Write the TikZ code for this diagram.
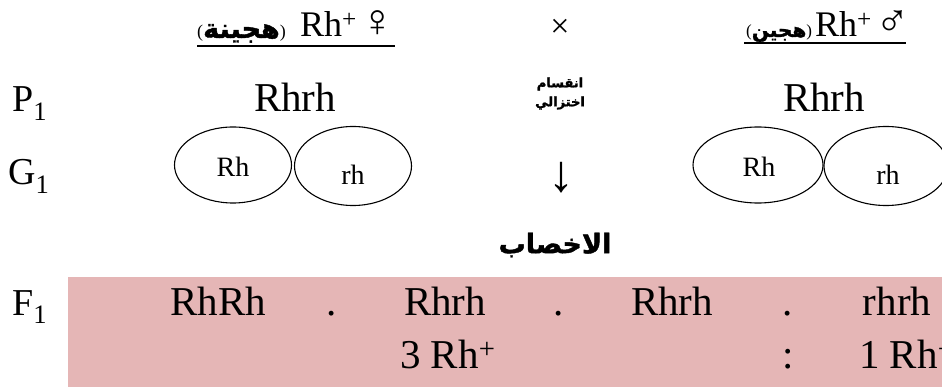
\documentclass[tikz,border=0pt]{standalone}
\usepackage{fontspec}
\setmainfont{Liberation Serif}
\newfontfamily\arabicfont[Script=Arabic,FakeBold=1.5]{DejaVu Sans}
\TeXXeTstate=1
\usetikzlibrary{shapes.geometric}
\definecolor{pinkbg}{RGB}{229,182,182}
\newcommand\fsz[1]{\fontsize{#1}{#1}\selectfont}
\tikzset{
  main/.style={inner sep=0pt, anchor=base, font=\fsz{41}},
  lbl/.style={inner sep=0pt, anchor=base west, font=\fsz{38}},
  hdr/.style={inner sep=0pt, anchor=base west, font=\fsz{36}},
  gam/.style={draw, line width=1.1pt, ellipse, inner sep=0pt},
  gtxt/.style={inner sep=0pt, anchor=base, font=\fsz{28}},
  artxt/.style={inner sep=0pt, font=\arabicfont\bfseries},
  sex/.style={inner sep=0pt, anchor=base, font=\fsz{46}},
  uline/.style={line width=1.2pt}
}
\begin{document}
\begin{tikzpicture}[x=1pt,y=-1pt]
\useasboundingbox (0,0) rectangle (942,387);
\clip (0,0) rectangle (942,387);
% F1 background band
\fill[pinkbg] (68,277) rectangle (942,387);

% header left
\node[hdr] (hLar) at (197,38) {{\fsz{18}(}{\arabicfont\bfseries\fsz{27}\beginR هجينة\endR}{\fsz{18})}};
\node[hdr] (hLrh) at (300,37) {Rh\textsuperscript{+}};
\node[sex] (hLsym) at (378,37) {♀};
\coordinate (uL1) at (197,46);
\coordinate (uL2) at (395,46);
\draw[uline] (uL1) -- (uL2);

% cross
\node[inner sep=0pt, font=\fsz{34}] (cross) at (560,28) {×};

% header right
\node[hdr] (hRar) at (746,37) {{\fsz{17}(}{\arabicfont\bfseries\fsz{20}\beginR هجين\endR}{\fsz{17})}};
\node[hdr] (hRrh) at (815,37) {Rh\textsuperscript{+}};
\node[sex] (hRsym) at (893,37) {♂};
\coordinate (uR1) at (744,43);
\coordinate (uR2) at (906,43);
\draw[uline] (uR1) -- (uR2);

% P1 row
\node[lbl] (P1) at (12,112) {P\textsubscript{1}};
\node[main] (pL) at (295,112) {Rhrh};
\node[main] (pR) at (824,112) {Rhrh};
\node[artxt, font=\arabicfont\bfseries\fsz{13}] (mid1) at (560,84) {\beginR انقسام\endR};
\node[artxt, font=\arabicfont\bfseries\fsz{13}] (mid2) at (560,103) {\beginR اختزالي\endR};

% G1 row
\node[lbl] (G1) at (8,185) {G\textsubscript{1}};
\node[gam, minimum width=117pt, minimum height=76pt] (e1) at (233,165) {};
\node[gam, minimum width=117pt, minimum height=79pt] (e2) at (353,166) {};
\node[gam, minimum width=130pt, minimum height=76pt] (e3) at (758,165) {};
\node[gam, minimum width=124pt, minimum height=79pt] (e4) at (886,166) {};
\node[gtxt] (t1) at (233,177) {Rh};
\node[gtxt] (t2) at (353,185) {rh};
\node[gtxt] (t3) at (759,177) {Rh};
\node[gtxt] (t4) at (888,185) {rh};
\node[inner sep=0pt, font=\fsz{52}] (down) at (561,178) {↓};
\node[artxt, font=\arabicfont\bfseries\fsz{27}] (fert) at (555,245) {\beginR الاخصاب\endR};

% F1 row
\node[lbl] (F1) at (12,315) {F\textsubscript{1}};
\node[main] (f1) at (218,315) {RhRh};
\node[main] (d1) at (332,315) {.};
\node[main] (f2) at (445,315) {Rhrh};
\node[main] (d2) at (559,315) {.};
\node[main] (f3) at (672,315) {Rhrh};
\node[main] (d3) at (788,315) {.};
\node[main] (f4) at (897,315) {rhrh};
\node[main, anchor=base west] (r1) at (400,368) {3 Rh\textsuperscript{+}};
\node[main] (colon) at (788,368) {:};
\node[main, anchor=base west] (r2) at (859,368) {1 Rh\textsuperscript{−}};
\end{tikzpicture}
\end{document}
